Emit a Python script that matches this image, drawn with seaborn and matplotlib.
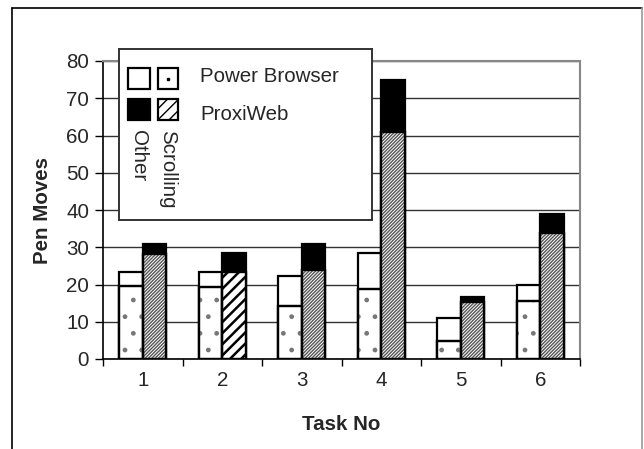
import numpy as np
import pandas as pd
import matplotlib
matplotlib.use('Agg')
import matplotlib.pyplot as plt
import seaborn as sns
from matplotlib.patches import Rectangle
from matplotlib.lines import Line2D

# data
tasks = ['1', '2', '3', '4', '5', '6']
pb_scroll = [19.7, 19.2, 14.3, 18.7, 4.9, 15.6]
pb_total = [23.3, 23.3, 22.3, 28.5, 11.1, 19.9]
pw_scroll = [28.1, 23.4, 23.9, 61.0, 15.4, 33.7]
pw_total = [30.8, 28.5, 30.8, 74.9, 16.6, 38.9]
browsers = ['Power Browser', 'ProxiWeb']

df = pd.DataFrame({
    'Task': tasks * 2,
    'Browser': [browsers[0]] * 6 + [browsers[1]] * 6,
    'Scrolling': pb_scroll + pw_scroll,
    'Total': pb_total + pw_total,
})

sns.set_style('white')
plt.rcParams['font.family'] = ['Liberation Sans', 'DejaVu Sans']
plt.rcParams['hatch.linewidth'] = 1.0

FS = 14.8

fig = plt.figure(figsize=(6.44, 4.49), dpi=100)
ax = fig.add_axes([103 / 644, 1 - 359 / 449, 477 / 644, 298 / 449])

# totals (the "other" part shows above the scrolling part)
sns.barplot(data=df, x='Task', y='Total', hue='Browser', order=tasks,
            hue_order=browsers, palette={browsers[0]: 'white', browsers[1]: 'black'},
            width=0.585, edgecolor='black', linewidth=1.6, legend=False, ax=ax,
            zorder=3)
n_tot = len(ax.patches)

# scrolling part
sns.barplot(data=df, x='Task', y='Scrolling', hue='Browser', order=tasks,
            hue_order=browsers, palette={browsers[0]: 'white', browsers[1]: 'white'},
            width=0.585, edgecolor='black', linewidth=1.6, legend=False, ax=ax,
            zorder=4)

for p in ax.patches[n_tot:]:
    x = p.get_x() + p.get_width() / 2
    idx = int(round(x))
    hlw = 1.0
    if x > idx:
        if idx == 1:
            hatch, hc, hlw = '///', 'black', 1.8
        else:
            hatch, hc = '//////////', '#555555'
    else:
        hatch, hc = '.', '#777777'
    plt.rcParams['hatch.linewidth'] = hlw
    ax.add_patch(Rectangle((p.get_x(), 0), p.get_width(), p.get_height(),
                           facecolor='none', edgecolor=hc, hatch=hatch,
                           linewidth=0, zorder=4.5))
    ax.add_patch(Rectangle((p.get_x(), 0), p.get_width(), p.get_height(),
                           facecolor='none', edgecolor='black', linewidth=1.6,
                           zorder=5))
plt.rcParams['hatch.linewidth'] = 1.0

ax.set_ylim(0, 80)
ax.set_xlim(-0.5, 5.5)
ax.set_yticks(np.arange(0, 81, 10))
ax.yaxis.grid(True, color='#333333', linewidth=1.0)
ax.set_axisbelow(True)
ax.tick_params(axis='y', direction='out', length=6, width=1, color='black',
               labelsize=FS, pad=4, left=True)
ax.set_xticks(np.arange(-0.5, 6, 1))
ax.set_xticklabels([])
ax.set_xticks(np.arange(6), labels=tasks, minor=True)
ax.tick_params(axis='x', which='major', direction='out', length=5, width=1,
               color='black', bottom=True)
ax.tick_params(axis='x', which='minor', length=0, labelsize=FS, pad=9)

for s in ['left', 'bottom']:
    ax.spines[s].set_color('black')
    ax.spines[s].set_linewidth(1.2)
for s in ['top', 'right']:
    ax.spines[s].set_color('#888888')
    ax.spines[s].set_linewidth(1.5)

ax.set_xlabel('Task No', fontsize=FS, fontweight='bold', labelpad=17.5)
ax.set_ylabel('Pen Moves', fontsize=FS, fontweight='bold', labelpad=10)

# custom legend box
lg = fig.add_axes([119 / 644, 1 - 220 / 449, 253 / 644, 171 / 449], zorder=10)
lg.set_xlim(0, 253)
lg.set_ylim(171, 0)
lg.set_xticks([])
lg.set_yticks([])
for s in lg.spines.values():
    s.set_color('#333333')
    s.set_linewidth(1.4)
lg.set_facecolor('white')

lg.add_patch(Rectangle((9, 19), 22, 21, facecolor='white', edgecolor='black', linewidth=1.6))
lg.add_patch(Rectangle((39, 19), 20, 21, facecolor='white', edgecolor='black', linewidth=1.6))
lg.plot([49], [30], marker='s', markersize=1.8, color='black')
lg.add_patch(Rectangle((9, 50), 22, 21, facecolor='black', edgecolor='black', linewidth=1.6))
lg.add_patch(Rectangle((39, 50), 20, 21, facecolor='none', edgecolor='black', hatch='///', linewidth=0))
lg.add_patch(Rectangle((39, 50), 20, 21, facecolor='none', edgecolor='black', linewidth=1.6))

lg.text(81, 27, 'Power Browser', fontsize=FS, va='center', ha='left')
lg.text(81, 66, 'ProxiWeb', fontsize=FS, va='center', ha='left')
lg.text(20, 81, 'Other', fontsize=FS, rotation=270, va='top', ha='center')
lg.text(49, 81, 'Scrolling', fontsize=FS, rotation=270, va='top', ha='center')

# outer chart frame
H = 449
fig.add_artist(Line2D([12 / 644, 12 / 644], [0, 1 - 8 / H], color='black', linewidth=1.2))
fig.add_artist(Line2D([12 / 644, 642 / 644], [1 - 8 / H, 1 - 8 / H], color='black', linewidth=1.2))
fig.add_artist(Line2D([642 / 644, 642 / 644], [0, 1 - 8 / H], color='#999999', linewidth=1.2))

fig.savefig('out.png', dpi=100)
